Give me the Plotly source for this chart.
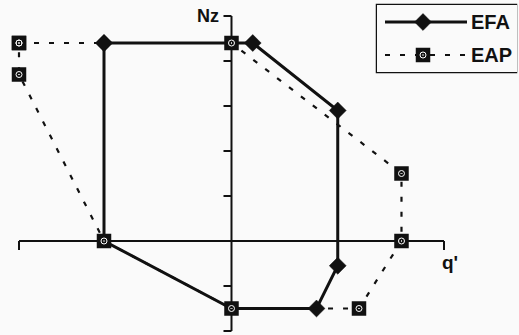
import plotly.graph_objects as go

# ---- data (q', Nz) ----
efa_q = [-3, 0.5, 2.5, 2.5, 2, 0, -3, -3]
efa_nz = [4.4, 4.4, 2.9, -0.55, -1.5, -1.5, 0, 4.4]

eap_q = [-5, 0, 4, 4, 3, 0, -3, -5, -5]
eap_nz = [4.4, 4.4, 1.5, 0, -1.5, -1.5, 0, 3.7, 4.4]

series_names = ["EFA", "EAP"]
x_axis_range = [-5, 5]
y_axis_range = [-2, 5]
y_ticks = [-1, 1, 2, 3, 4]

BG = "#fafafa"
INK = "#111111"
FONT = "Liberation Sans"
W, H = 519, 335

eap_pts = set(zip(eap_q, eap_nz))
efa_sizes = [0 if (q, n) in eap_pts else 13 for q, n in zip(efa_q, efa_nz)]

EFA_LINE = dict(color=INK, width=3)
EAP_LINE = dict(color=INK, width=2.2, dash="5px,10px")
EFA_MARK = dict(symbol="diamond", color=INK, opacity=1, line=dict(color=INK, width=0.5))
EAP_MARK = dict(symbol="square", size=13, color=INK, opacity=1, line=dict(color=INK, width=1.5))
EAP_DOTS = dict(symbol="circle-open-dot", size=6, color="white", line=dict(color="#e0e0e0", width=1))

fig = go.Figure()
fig.add_trace(go.Scatter(
    x=efa_q, y=efa_nz, mode="lines+markers", name=series_names[0], showlegend=False,
    line=EFA_LINE, marker=dict(size=efa_sizes, **EFA_MARK),
))
fig.add_trace(go.Scatter(
    x=eap_q, y=eap_nz, mode="lines+markers", name=series_names[1], showlegend=False,
    line=EAP_LINE, marker=EAP_MARK,
))
fig.add_trace(go.Scatter(
    x=eap_q, y=eap_nz, mode="markers", showlegend=False, hoverinfo="skip", marker=EAP_DOTS,
))

# ---- legend key (drawn on a small pixel-scaled overlay axis) ----
key_x = [8, 46, 90]
key_rows = [17, 50]
fig.add_trace(go.Scatter(
    x=key_x, y=[key_rows[0]] * 3, xaxis="x2", yaxis="y2", mode="lines+markers",
    showlegend=False, hoverinfo="skip", line=EFA_LINE, marker=dict(size=[0, 13, 0], **EFA_MARK),
))
fig.add_trace(go.Scatter(
    x=key_x, y=[key_rows[1]] * 3, xaxis="x2", yaxis="y2", mode="lines+markers",
    showlegend=False, hoverinfo="skip", line=EAP_LINE, marker=dict(EAP_MARK, size=[0, 13, 0]),
))
fig.add_trace(go.Scatter(
    x=[key_x[1]], y=[key_rows[1]], xaxis="x2", yaxis="y2", mode="markers",
    showlegend=False, hoverinfo="skip", marker=EAP_DOTS,
))

shapes = []
# x axis with end caps
shapes.append(dict(type="line", xref="x", yref="y", x0=x_axis_range[0], x1=x_axis_range[1], y0=0, y1=0,
                   line=dict(color=INK, width=2), layer="below"))
for xe in x_axis_range:
    shapes.append(dict(type="line", xref="x", yref="y", ysizemode="pixel", yanchor=0,
                       x0=xe, x1=xe, y0=0, y1=-9, line=dict(color=INK, width=2), layer="below"))
# y axis with end caps and ticks
shapes.append(dict(type="line", xref="x", yref="y", x0=0, x1=0, y0=y_axis_range[0], y1=y_axis_range[1],
                   line=dict(color=INK, width=2), layer="below"))
for yt in list(y_axis_range) + y_ticks:
    shapes.append(dict(type="line", xref="x", yref="y", xsizemode="pixel", xanchor=0,
                       x0=-8, x1=0, y0=yt, y1=yt, line=dict(color=INK, width=2), layer="below"))
# legend box
shapes.append(dict(type="rect", xref="paper", yref="paper",
                   x0=377 / W, x1=516 / W, y0=1 - 72 / H, y1=1 - 5 / H,
                   line=dict(color=INK, width=2.5), fillcolor=BG, layer="below"))

annotations = [
    dict(x=0, y=y_axis_range[1], xref="x", yref="y", text="Nz", showarrow=False,
         xanchor="right", yanchor="middle", xshift=-10, yshift=0,
         font=dict(family=FONT, size=18, color=INK, weight="bold")),
    dict(x=x_axis_range[1], y=0, xref="x", yref="y", text="q'", showarrow=False,
         xanchor="left", yanchor="top", xshift=-4, yshift=-9,
         font=dict(family=FONT, size=19, color=INK, weight="bold")),
]
for nm, ry in zip(series_names, key_rows):
    annotations.append(dict(x=92, y=ry, xref="x2", yref="y2", text=nm, showarrow=False,
                            xanchor="left", yanchor="middle",
                            font=dict(family=FONT, size=20, color=INK, weight="bold")))

fig.update_layout(
    width=W, height=H,
    margin=dict(l=0, r=0, t=0, b=0),
    paper_bgcolor=BG, plot_bgcolor=BG,
    xaxis=dict(range=[-5.447, 6.765], visible=False, fixedrange=True),
    yaxis=dict(range=[-2.089, 5.356], visible=False, fixedrange=True),
    xaxis2=dict(domain=[377 / W, 517 / W], range=[0, 140], visible=False,
                fixedrange=True, anchor="y2"),
    yaxis2=dict(domain=[1 - 72 / H, 1 - 5 / H], range=[67, 0], visible=False,
                fixedrange=True, anchor="x2"),
    shapes=shapes,
    annotations=annotations,
    showlegend=False,
)

fig.write_html("out.html", config={"displayModeBar": False},
               post_script="document.body.style.margin='0';")
